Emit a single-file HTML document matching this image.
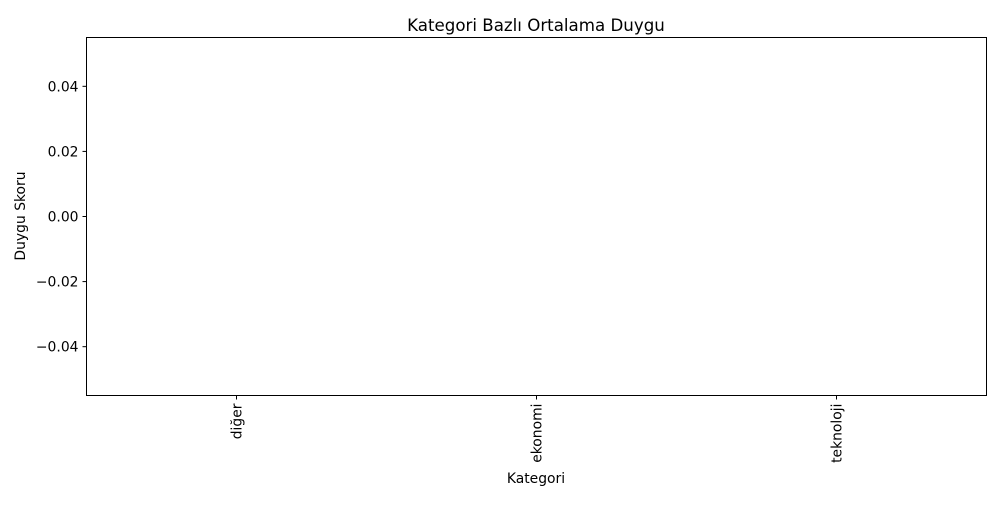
<!DOCTYPE html>
<html><head><meta charset="utf-8"><style>
body{margin:0;background:#fff;}
svg text{font-family:"DejaVu Sans","Liberation Sans",sans-serif;fill:#000;}
</style></head><body>
<svg id="chart" width="1000" height="500" xmlns="http://www.w3.org/2000/svg">
<rect width="1000" height="500" fill="#fff"/>
<text x="536" y="31" font-size="16.67" text-anchor="middle">Kategori Bazlı Ortalama Duygu</text>
<g id="plot"></g>
<rect x="86.5" y="37.5" width="900" height="358" fill="none" stroke="#000" stroke-width="1"/>
<text x="536" y="483" font-size="13.9" text-anchor="middle">Kategori</text>
<text transform="translate(25,216) rotate(-90)" font-size="13.9" text-anchor="middle">Duygu Skoru</text>
</svg>
<script>
const categories=["diğer","ekonomi","teknoloji"];
const values=[0,0,0];
const yTicks=[0.04,0.02,0,-0.02,-0.04];
const yTickLabels=["0.04","0.02","0.00","−0.02","−0.04"];
const ns="http://www.w3.org/2000/svg";
const g=document.getElementById('plot');
const L=86.5,R=986.5,T=37.5,B=395.5,yMin=-0.055,yMax=0.055;
const x=i=>L+(i+0.5)*(R-L)/categories.length;
const y=v=>B-(v-yMin)/(yMax-yMin)*(B-T);
function mk(t,a){const e=document.createElementNS(ns,t);for(const k in a)e.setAttribute(k,a[k]);g.appendChild(e);return e;}
const bw=(R-L)/categories.length*0.5;
values.forEach((v,i)=>{
 const r=mk('rect',{x:x(i)-bw/2,y:Math.min(y(v),y(0)),width:bw,height:Math.abs(y(v)-y(0)),fill:'#1f77b4'});
 
 
});
categories.forEach((c,i)=>{
 const t=mk('line',{x1:x(i),x2:x(i),y1:B,y2:B+4,stroke:'#000'});
 
 
 const l=mk('text',{transform:`translate(${x(i)+5},${B+8}) rotate(-90)`,'font-size':13.9,'text-anchor':'end'});
 l.textContent=c;
 
 
});
yTicks.forEach((v,i)=>{
 const t=mk('line',{x1:L-4,x2:L,y1:y(v),y2:y(v),stroke:'#000'});
 
 
 const l=mk('text',{x:L-8,y:y(v)+5,'font-size':13.9,'text-anchor':'end'});
 l.textContent=yTickLabels[i];
 
 
});
</script>
</body></html>
